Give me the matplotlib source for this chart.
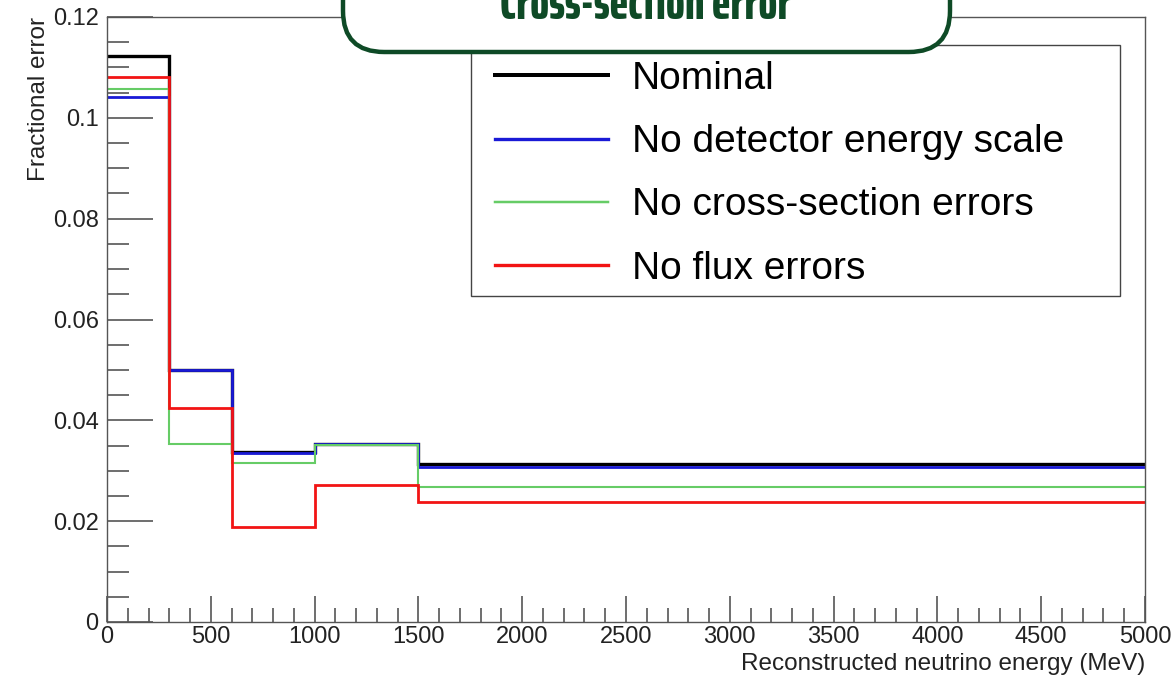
import matplotlib
matplotlib.use("Agg")
import matplotlib.pyplot as plt
from matplotlib.patches import FancyBboxPatch, Rectangle
from matplotlib.ticker import MultipleLocator, FuncFormatter

# Binning in reconstructed neutrino energy (MeV)
bin_edges = [0, 300, 600, 1000, 1500, 5000]

# Fractional error per bin for each systematic configuration
nominal = [0.1123, 0.0500, 0.0337, 0.0354, 0.0313]
no_detector_scale = [0.1041, 0.0500, 0.0336, 0.0354, 0.0308]
no_xsec = [0.1057, 0.0353, 0.0316, 0.0351, 0.0268]
no_flux = [0.1081, 0.0425, 0.0189, 0.0272, 0.0239]

labels = ["Nominal", "No detector energy scale", "No cross-section errors", "No flux errors"]
colors = ["#000000", "#1a1ad6", "#66cc66", "#f21414"]
widths = [2.4, 2.0, 1.5, 2.0]

plt.rcParams["font.family"] = ["Liberation Sans", "DejaVu Sans"]

W, H = 1176, 676
fig = plt.figure(figsize=(W / 100, H / 100), dpi=100)
ax = fig.add_axes([107 / W, 1 - 622 / H, (1145 - 107) / W, (622 - 17) / H])

series = [nominal, no_detector_scale, no_xsec, no_flux]
for vals, lab, col, lw in zip(series, labels, colors, widths):
    ax.stairs(vals, bin_edges, baseline=None, color=col, lw=lw, label=lab)

ax.set_xlim(0, 5000)
ax.set_ylim(0, 0.12)

frame_col = "#555555"
for s in ax.spines.values():
    s.set_color(frame_col)
    s.set_linewidth(1.0)

ax.xaxis.set_major_locator(MultipleLocator(500))
ax.xaxis.set_minor_locator(MultipleLocator(100))
ax.yaxis.set_major_locator(MultipleLocator(0.02))
ax.yaxis.set_minor_locator(MultipleLocator(0.005))

ax.tick_params(axis="both", which="both", direction="in", color=frame_col,
               top=False, right=False, labelsize=17, labelcolor="#222222")
ax.tick_params(axis="x", which="major", length=19, width=1.2, pad=3)
ax.tick_params(axis="x", which="minor", length=10, width=1.2)
ax.tick_params(axis="y", which="major", length=33, width=1.2, pad=6)
ax.tick_params(axis="y", which="minor", length=16, width=1.2)


def yfmt(v, pos):
    if abs(v) < 1e-12:
        return "0"
    return ("%.2f" % v).rstrip("0")


ax.yaxis.set_major_formatter(FuncFormatter(yfmt))

ax.set_xlabel("Reconstructed neutrino energy (MeV)", fontsize=17.5, color="#222222",
              loc="right", labelpad=3.5)
ax.set_ylabel("Fractional error", fontsize=17.5, color="#222222", loc="top", labelpad=2)

# Legend entries without their own frame; the box is drawn separately beneath them
legend_box = Rectangle((471 / W, 1 - 296 / H), (1120 - 471) / W, (296 - 45) / H,
                       transform=fig.transFigure, facecolor="white",
                       edgecolor="#444444", linewidth=1.0, zorder=4, clip_on=False)
ax.add_patch(legend_box)

leg = ax.legend(loc="upper left", bbox_to_anchor=(495 / W, 1 - 61 / H),
                bbox_transform=fig.transFigure,
                fontsize=28, frameon=False,
                handlelength=2.9, handletextpad=0.62, borderpad=0,
                labelspacing=0.70, borderaxespad=0)
leg.set_zorder(6)
for line in leg.get_lines():
    line.set_linewidth(line.get_linewidth() * 1.2)

# Rounded title banner, running off the top edge
banner = FancyBboxPatch((343 / W, 1 - 52 / H), (950 - 343) / W, 120 / H,
                        boxstyle="round,pad=0,rounding_size=0.035",
                        transform=fig.transFigure, facecolor="white",
                        edgecolor="#0e4a26", linewidth=3.2, zorder=10,
                        mutation_aspect=W / H)
fig.patches.append(banner)
fig.text(646 / W, 1 - 19 / H, "Cross-section error", ha="center", va="baseline",
         fontsize=36, fontweight=800, family="Saira ExtraCondensed",
         color="#0e4a26", zorder=11)

fig.savefig("out.png", dpi=100)
